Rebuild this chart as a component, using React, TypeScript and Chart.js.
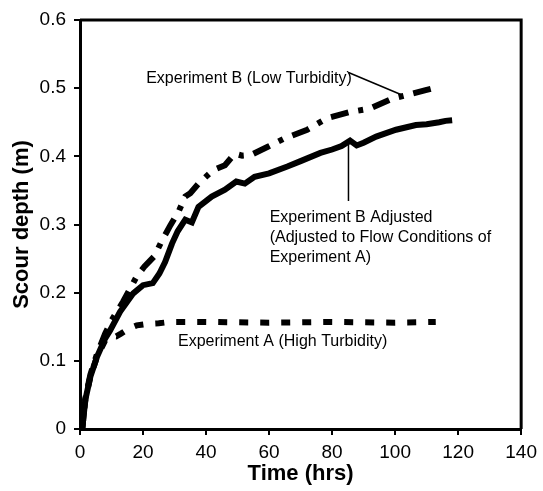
import React, { useEffect, useRef } from "react";
import { Chart, registerables } from "chart.js";

Chart.register(...registerables);

// Experiment A (High Turbidity)
const expATime = [0.7, 1.7, 3.3, 5.4, 8, 10, 11.5, 13, 15.8, 18, 21, 25, 28.4, 40, 60, 80, 100, 112.9];
const expADepth = [0, 0.043, 0.077, 0.106, 0.13, 0.137, 0.136, 0.14, 0.148, 0.152, 0.154, 0.155, 0.157, 0.157, 0.156, 0.157, 0.156, 0.157];

// Experiment B (Low Turbidity)
const expBTime = [0.7, 1.7, 3.3, 5.4, 8, 10.1, 13.7, 17.9, 20.4, 23.5, 26.1, 28.7, 31.3, 33.4, 35, 37.6, 42.3, 46, 49.1, 51.5, 54.3, 59.6, 64.8, 72.1, 78.4, 85.7, 92, 99.3, 105.5, 109.7, 113.9];
const expBDepth = [0, 0.045, 0.08, 0.11, 0.14, 0.16, 0.187, 0.223, 0.238, 0.253, 0.277, 0.299, 0.319, 0.341, 0.346, 0.36, 0.38, 0.387, 0.404, 0.401, 0.402, 0.414, 0.426, 0.439, 0.456, 0.465, 0.47, 0.485, 0.492, 0.497, 0.502];

// Experiment B Adjusted
const adjTime = [0.7, 1.7, 3.3, 5.4, 8, 9.6, 12.7, 16.9, 20, 23.1, 25.2, 27, 29.2, 31, 33.4, 35.5, 37.6, 41.8, 46, 49.6, 52.3, 55.4, 60, 65.8, 70, 76.3, 80, 83, 85.7, 87.8, 90, 94, 100.3, 106.6, 110, 114, 116, 118.1];
const adjDepth = [0, 0.043, 0.077, 0.106, 0.133, 0.145, 0.172, 0.199, 0.211, 0.214, 0.228, 0.245, 0.272, 0.29, 0.307, 0.303, 0.326, 0.341, 0.351, 0.363, 0.36, 0.37, 0.375, 0.385, 0.393, 0.405, 0.41, 0.415, 0.423, 0.416, 0.42, 0.429, 0.439, 0.446, 0.447, 0.45, 0.452, 0.453];

const xTickValues = [0, 20, 40, 60, 80, 100, 120, 140];
const yTickValues = [0, 0.1, 0.2, 0.3, 0.4, 0.5, 0.6];

const labelB = ["Experiment B (Low Turbidity)"];
const labelAdj = ["Experiment B Adjusted", "(Adjusted to Flow Conditions of", "Experiment A)"];
const labelA = ["Experiment A (High Turbidity)"];

const FONT = "Arial, 'Liberation Sans', Helvetica, sans-serif";

const toXY = (t: number[], d: number[]) => t.map((v, i) => ({ x: v, y: d[i] }));

// annotation anchors in data units
const notes = [
  { lines: labelB, x: 21.0, y: 0.5134 },
  { lines: labelAdj, x: 60.2, y: 0.3095 },
  { lines: labelA, x: 31.1, y: 0.128 },
];
const leaders = [
  { x1: 85.2, y1: 0.523, x2: 102.2, y2: 0.49 },
  { x1: 85.2, y1: 0.424, x2: 85.2, y2: 0.3345 },
];

const notesPlugin = {
  id: "notes",
  afterDatasetsDraw(chart: any) {
    const { ctx, chartArea, scales } = chart;
    const xs = scales.x;
    const ys = scales.y;
    ctx.save();
    ctx.strokeStyle = "#000";
    ctx.lineWidth = 3;
    ctx.beginPath();
    ctx.moveTo(chartArea.left, chartArea.top);
    ctx.lineTo(chartArea.right, chartArea.top);
    ctx.lineTo(chartArea.right, chartArea.bottom);
    ctx.stroke();
    ctx.lineWidth = 1.5;
    leaders.forEach((l) => {
      ctx.beginPath();
      ctx.moveTo(xs.getPixelForValue(l.x1), ys.getPixelForValue(l.y1));
      ctx.lineTo(xs.getPixelForValue(l.x2), ys.getPixelForValue(l.y2));
      ctx.stroke();
    });
    ctx.fillStyle = "#000";
    ctx.font = `16px ${FONT}`;
    ctx.textBaseline = "middle";
    ctx.textAlign = "left";
    notes.forEach((n) => {
      const px = xs.getPixelForValue(n.x);
      const py = ys.getPixelForValue(n.y);
      n.lines.forEach((line, i) => {
        ctx.fillText(line, px, py + i * 20);
      });
    });
    ctx.restore();
  },
};

export default function App() {
  const ref = useRef<HTMLCanvasElement | null>(null);
  useEffect(() => {
    if (!ref.current) return;
    const chart = new Chart(ref.current, {
      type: "line",
      data: {
        datasets: [
          {
            label: "Experiment A (High Turbidity)",
            data: toXY(expATime, expADepth),
            borderColor: "#000",
            borderWidth: 6,
            borderDash: [9, 12],
            pointRadius: 0,
            tension: 0,
            fill: false,
          },
          {
            label: "Experiment B (Low Turbidity)",
            data: toXY(expBTime, expBDepth),
            borderColor: "#000",
            borderWidth: 6,
            borderDash: [18, 10, 5, 10],
            pointRadius: 0,
            tension: 0,
            fill: false,
          },
          {
            label: "Experiment B Adjusted",
            data: toXY(adjTime, adjDepth),
            borderColor: "#000",
            borderWidth: 6,
            pointRadius: 0,
            tension: 0,
            fill: false,
          },
        ],
      },
      options: {
        responsive: true,
        maintainAspectRatio: false,
        animation: false,
        layout: { padding: { top: 20, right: 17, left: 0, bottom: 0 } },
        plugins: { legend: { display: false }, tooltip: { enabled: false } },
        scales: {
          x: {
            type: "linear",
            min: 0,
            max: 140,
            afterFit: (s: any) => {
              s.height = 62;
            },
            afterBuildTicks: (s: any) => {
              s.ticks = xTickValues.map((v) => ({ value: v }));
            },
            border: { display: true, color: "#000", width: 3 },
            grid: { drawOnChartArea: false, drawTicks: true, tickLength: 6, color: "#000", lineWidth: 2 },
            ticks: { color: "#000", font: { family: FONT, size: 19 }, padding: 6, maxRotation: 0 },
            title: {
              display: true,
              text: "Time (hrs)",
              color: "#000",
              font: { family: FONT, size: 22, weight: "bold" },
              padding: { top: 0, bottom: 4 },
            },
          },
          y: {
            type: "linear",
            min: 0,
            max: 0.6,
            afterFit: (s: any) => {
              s.width = 80;
            },
            afterBuildTicks: (s: any) => {
              s.ticks = yTickValues.map((v) => ({ value: v }));
            },
            border: { display: true, color: "#000", width: 3 },
            grid: { drawOnChartArea: false, drawTicks: true, tickLength: 6, color: "#000", lineWidth: 2 },
            ticks: {
              color: "#000",
              font: { family: FONT, size: 19 },
              padding: 8,
              callback: (v: any) => String(Math.round(Number(v) * 10) / 10),
            },
            title: {
              display: true,
              text: "Scour depth (m)",
              color: "#000",
              font: { family: FONT, size: 22, weight: "bold" },
              padding: { top: 9, bottom: 0 },
            },
          },
        },
      },
      plugins: [notesPlugin],
    });
    return () => chart.destroy();
  }, []);
  return (
    <div style={{ position: "absolute", left: 0, top: 0, width: 543, height: 491, background: "#fff" }}>
      <canvas ref={ref} />
    </div>
  );
}
